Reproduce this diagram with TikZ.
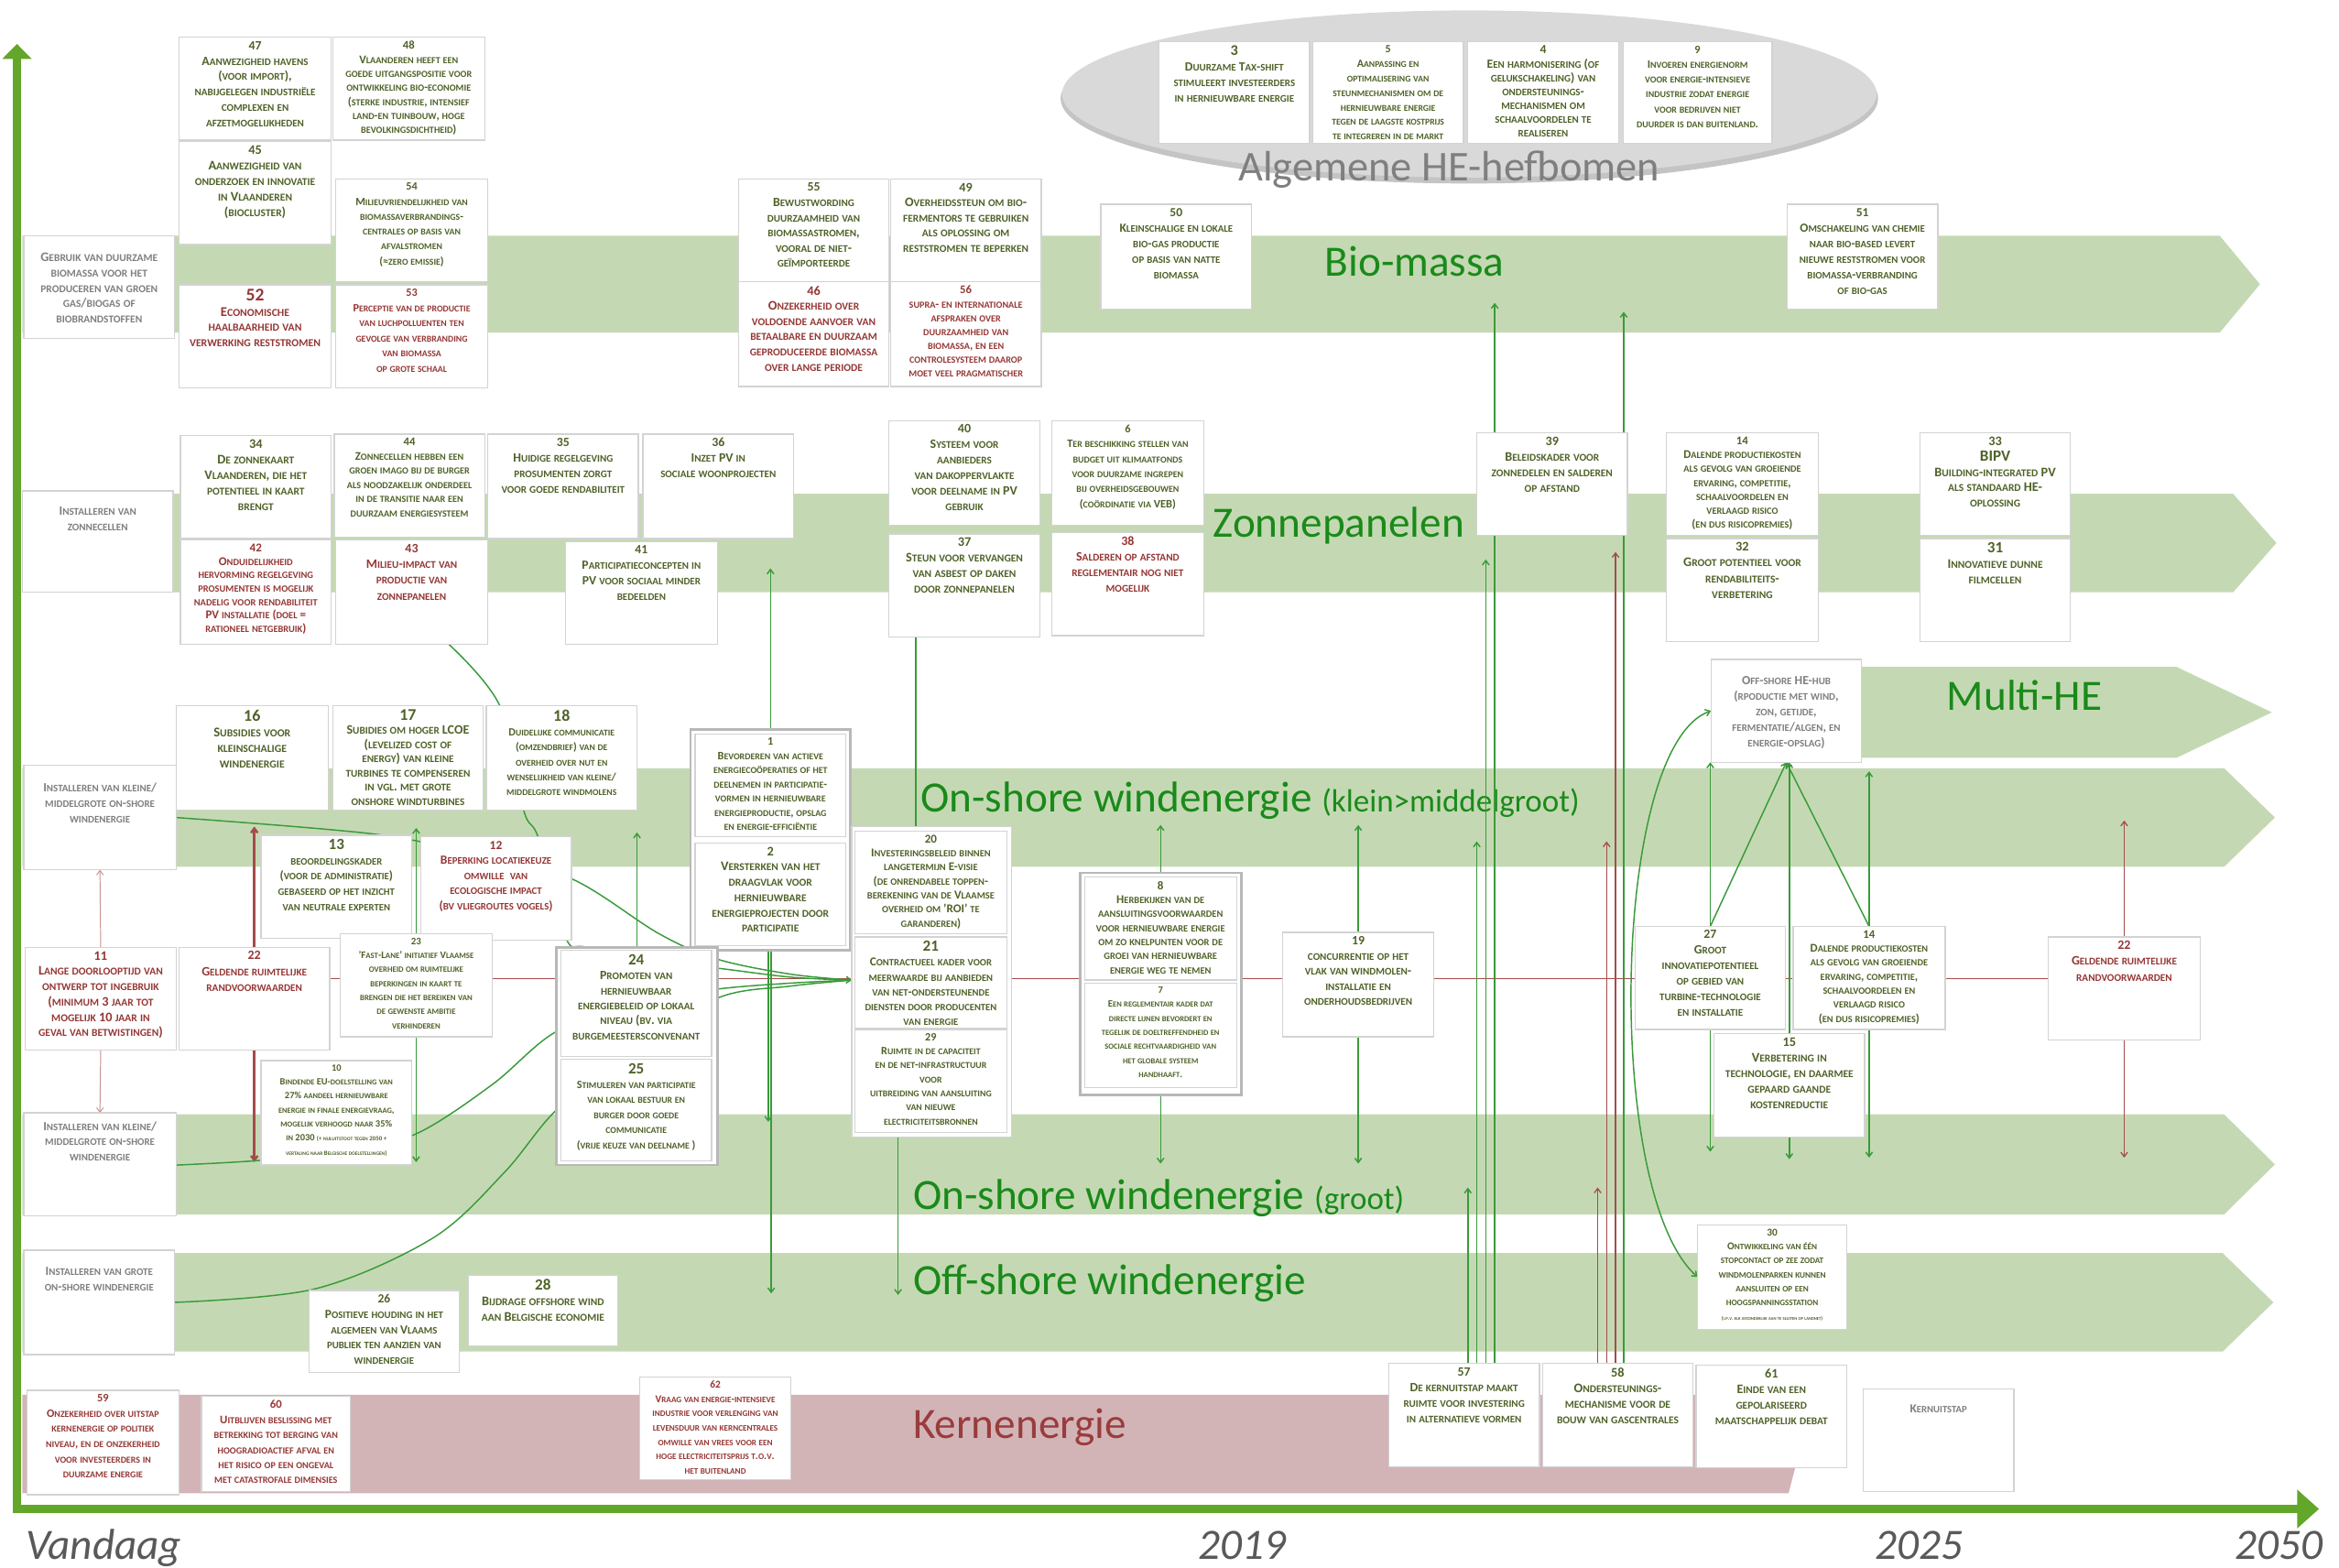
\documentclass[tikz,border=0pt]{standalone}
\usepackage{fontspec}
\setmainfont{Carlito}
\usetikzlibrary{arrows.meta}
\definecolor{gtx}{HTML}{4F6228}
\definecolor{rtx}{HTML}{953735}
\definecolor{gry}{HTML}{7F7F7F}
\definecolor{bordc}{HTML}{D3D3D3}
\definecolor{ofr}{HTML}{B8B8B8}
\definecolor{bandc}{HTML}{C4D9B3}
\definecolor{kernc}{HTML}{D2B4B7}
\definecolor{axc}{HTML}{62A62A}
\definecolor{lblc}{HTML}{1A8A1A}
\definecolor{kernlbl}{HTML}{9A3C3C}
\definecolor{lng}{HTML}{3A9A3A}
\definecolor{lnr}{HTML}{A54B4B}
\definecolor{ellc}{HTML}{D9D9D9}
\definecolor{ellsh}{HTML}{C4C4C4}
\definecolor{axl}{HTML}{595959}
\pgfdeclarelayer{bg}\pgfdeclarelayer{ln}\pgfsetlayers{bg,ln,main}
\makeatletter
\newcommand\fscsz{\fontsize{\fpeval{0.8*\f@size}}{\f@baselineskip}\selectfont}
\makeatother
\ExplSyntaxOn
\tl_new:N \l__fsc_out_tl
\seq_new:N \l__fsc_words_seq
\bool_new:N \l__fsc_first_bool
\cs_new_protected:Npn \fsc_process:n #1
 {
  \tl_clear:N \l__fsc_out_tl
  \seq_set_split:Nnn \l__fsc_words_seq { ~ } {#1}
  \bool_set_true:N \l__fsc_first_bool
  \seq_map_inline:Nn \l__fsc_words_seq
   {
    \bool_if:NF \l__fsc_first_bool { \tl_put_right:Nn \l__fsc_out_tl { ~ } }
    \bool_set_false:N \l__fsc_first_bool
    \tl_map_inline:nn {##1}
     {
      \tl_if_single_token:nTF {####1}
       {
        \tl_if_in:nnTF { abcdefghijklmnopqrstuvwxyzëïöéèüá } {####1}
         { \tl_put_right:Nn \l__fsc_out_tl { { \fscsz \MakeUppercase {####1} } } }
         { \tl_put_right:Nn \l__fsc_out_tl {####1} }
       }
       { \tl_put_right:Nn \l__fsc_out_tl { {####1} } }
     }
   }
 }
\NewDocumentCommand \fsc { m } { \fsc_process:n {#1} \tl_use:N \l__fsc_out_tl }
\ExplSyntaxOff
\newcommand\tinytxt[2]{{\fontsize{#1}{#1}\selectfont\fsc{#2}}}
\newcommand\bxf[2]{\fontsize{#1}{#2}\selectfont\bfseries}
\newcommand\bignum[2]{{\fontsize{#1}{#1}\selectfont #2}}
\tikzset{
  frm/.style={draw=bordc,fill=white,line width=0.8pt,inner sep=0pt,outer sep=0pt},
  ofrm/.style={draw=ofr,fill=white,line width=1.6pt,inner sep=0pt,outer sep=0pt},
  tg/.style 2 args={text=gtx,font=\bxf{#1}{#2}},
  tr/.style 2 args={text=rtx,font=\bxf{#1}{#2}},
  ty/.style 2 args={text=gry,font=\bxf{#1}{#2}},
  blbl/.style={text=lblc,font=\fontsize{29}{30}\selectfont,anchor=base west,inner sep=0pt},
  axlbl/.style={text=axl,font=\fontsize{29}{30}\selectfont\itshape,anchor=base west,inner sep=0pt},
  gl/.style={draw=lng,line width=0.9pt},
  rl/.style={draw=lnr,line width=0.8pt},
  tip/.style={-{Straight Barb[length=3pt,width=4.5pt]}},
}
\newcommand\bx[7]{%
  \pgfmathsetmacro\bw{#4-#2}\pgfmathsetmacro\bh{#5-#3}%
  \node[frm,anchor=north west,minimum width=\bw pt,minimum height=\bh pt] (#1) at (#2,#3) {};%
  \node[anchor=north,align=center,inner sep=0pt,#6] at ([yshift=-2.5pt]#1.north) {\fsc{#7}};}
\newcommand\ob[6]{%
  \pgfmathsetmacro\bw{#4-#2}\pgfmathsetmacro\bh{#5-#3}%
  \node[#6,anchor=north west,minimum width=\bw pt,minimum height=\bh pt] (#1) at (#2,#3) {};}
\begin{document}
\begin{tikzpicture}[x=1pt,y=-1pt]
\useasboundingbox (0,0) rectangle (1568,1051);
\begin{pgfonlayer}{bg}
\fill[white] (0,0) rectangle (1568,1051);
\fill[ellsh] (985,66) ellipse [x radius=274, y radius=57];
\fill[ellc] (985,63) ellipse [x radius=273, y radius=56];
\fill[bandc] (15,158) -- (1488,158) -- (1515,190.5) -- (1488,223) -- (15,223) -- cycle;
\fill[bandc] (15,331) -- (1497,331) -- (1526,364) -- (1497,397) -- (15,397) -- cycle;
\fill[bandc] (1200,447) -- (1459,447) -- (1523,477.5) -- (1459,508) -- (1200,508) -- cycle;
\fill[bandc] (15,515) -- (1491,515) -- (1525,548) -- (1491,581) -- (15,581) -- cycle;
\fill[bandc] (15,747) -- (1491,747) -- (1525,780.5) -- (1491,814) -- (15,814) -- cycle;
\fill[bandc] (15,840) -- (1490,840) -- (1524,873) -- (1490,906) -- (15,906) -- cycle;
\fill[kernc] (15,935) -- (1216,935) -- (1199,1001) -- (15,1001) -- cycle;
\node[text=gry,font=\fontsize{28.5}{30}\selectfont,anchor=base west,inner sep=0pt] (lalg) at (830,121) {Algemene HE-hefbomen};
\node[blbl] (lbio) at (888,185) {Bio-massa};
\node[blbl] (lzon) at (813,360) {Zonnepanelen};
\node[blbl] (lmulti) at (1305,476) {Multi-HE};
\node[blbl] (lonk) at (617,544) {On-shore windenergie {\fontsize{21.5}{22}\selectfont (klein>middelgroot)}};
\node[blbl] (long) at (612,811) {On-shore windenergie {\fontsize{21.5}{22}\selectfont (groot)}};
\node[blbl] (loff) at (612,868) {Off-shore windenergie};
\node[blbl,text=kernlbl] (lkern) at (612,964) {Kernenergie};
\fill[axc] (8.8,1014.5) rectangle (14,39);
\fill[axc] (1.5,39.5) -- (21.3,39.5) -- (11.4,29.5) -- cycle;
\fill[axc] (8.8,1008.5) rectangle (1541,1014.5);
\fill[axc] (1540,998.5) -- (1554.5,1011.5) -- (1540,1024.5) -- cycle;
\node[axlbl] (tv) at (17,1045) {Vandaag};
\node[axlbl] (t19) at (803,1045) {2019};
\node[axlbl] (t25) at (1257,1045) {2025};
\node[axlbl] (t50) at (1498,1045) {2050};
\end{pgfonlayer}

\bx{gb}{16}{158}{117}{227}{ty={8.8}{10.2},yshift=-9pt}{Gebruik van duurzame\\biomassa voor het\\produceren van groen\\gas/biogas of\\biobrandstoffen}
\bx{n47}{120}{25}{222}{94}{tg={8.5}{10.4}}{47\\Aanwezigheid havens\\(voor import),\\nabijgelegen industriële\\complexen en\\afzetmogelijkheden}
\bx{n48}{223}{25}{325}{94}{tg={7.8}{9.4}}{48\\Vlaanderen heeft een\\goede uitgangspositie voor\\ontwikkeling bio-economie\\(sterke industrie, intensief\\land-en tuinbouw, hoge\\bevolkingsdichtheid)}
\bx{n45}{120}{95}{222}{164}{tg={8.8}{10.4}}{45\\Aanwezigheid van\\onderzoek en innovatie\\in Vlaanderen\\(biocluster)}
\bx{n54}{225}{120}{327}{189}{tg={7.5}{10}}{54\\Milieuvriendelijkheid van\\biomassaverbrandings-\\centrales op basis van\\afvalstromen\\(≈zero emissie)}
\bx{n52}{120}{191}{222}{260}{tr={9.0}{10.3}}{\bignum{12}{52}\\Economische\\haalbaarheid van\\verwerking reststromen}
\bx{n53}{225}{191}{327}{260}{tr={7.5}{10.2}}{53\\Perceptie van de productie\\van luchpolluenten ten\\gevolge van verbranding\\van biomassa\\op grote schaal}
\bx{n55}{495}{120}{596}{189}{tg={8.5}{10.2}}{55\\Bewustwording\\duurzaamheid van\\biomassastromen,\\vooral de niet-\\geïmporteerde}
\bx{n49}{597}{120}{698}{189}{tg={8.7}{10.2}}{49\\Overheidssteun om bio-\\fermentors te gebruiken\\als oplossing om\\reststromen te beperken}
\bx{n46}{495}{189}{596}{259}{tr={8.8}{10.2}}{46\\Onzekerheid over\\voldoende aanvoer van\\betaalbare en duurzaam\\geproduceerde biomassa\\over lange periode}
\bx{n56}{597}{189}{698}{259}{tr={7.8}{9.3}}{56\\supra- en internationale\\afspraken over\\duurzaamheid van\\biomassa, en een\\controlesysteem daarop\\moet veel pragmatischer}
\bx{n50}{738}{137}{839}{207}{tg={8.3}{10.4}}{50\\Kleinschalige en lokale\\bio-gas productie\\op basis van natte\\biomassa}
\bx{n51}{1198}{137}{1299}{207}{tg={8.3}{10.4}}{51\\Omschakeling van chemie\\naar bio-based levert\\nieuwe reststromen voor\\biomassa-verbranding\\of bio-gas}
\bx{n3}{777}{28}{878}{96}{tg={8.4}{10.4}}{\bignum{10}{3}\\Duurzame Tax-shift\\stimuleert investeerders\\in hernieuwbare energie}
\bx{n5}{880}{28}{981}{96}{tg={7.4}{9.7}}{5\\Aanpassing en\\optimalisering van\\steunmechanismen om de\\hernieuwbare energie\\tegen de laagste kostprijs\\te integreren in de markt}
\bx{n4}{984}{28}{1085}{96}{tg={8.4}{9.3}}{4\\Een harmonisering (of\\gelukschakeling) van\\ondersteunings-\\mechanismen om\\schaalvoordelen te\\realiseren}
\bx{n9}{1088}{28}{1188}{96}{tg={7.6}{10}}{9\\Invoeren energienorm\\voor energie-intensieve\\industrie zodat energie\\voor bedrijven niet\\duurder is dan buitenland.}
\bx{iz}{15}{329}{116}{397}{ty={8.5}{10.3},yshift=-8pt}{Installeren van\\zonnecellen}
\bx{n34}{121}{292}{222}{361}{tg={8.8}{10.4}}{34\\De zonnekaart\\Vlaanderen, die het\\potentieel in kaart\\brengt}
\bx{n44}{224}{291}{325}{360}{tg={7.8}{9.5}}{44\\Zonnecellen hebben een\\groen imago bij de burger\\als noodzakelijk onderdeel\\in de transitie naar een\\duurzaam energiesysteem}
\bx{n35}{327}{291}{428}{361}{tg={8.5}{10.4}}{35\\Huidige regelgeving\\prosumenten zorgt\\voor goede rendabiliteit}
\bx{n36}{431}{291}{532}{361}{tg={8.5}{10.4}}{36\\Inzet PV in\\sociale woonprojecten}
\bx{n42}{121}{362}{222}{432}{tr={8.0}{9.0}}{42\\Onduidelijkheid\\hervorming regelgeving\\prosumenten is mogelijk\\nadelig voor rendabiliteit\\PV installatie (doel =\\rationeel netgebruik)}
\bx{n43}{225}{362}{327}{432}{tr={8.6}{10.6}}{43\\Milieu-impact van\\productie van\\zonnepanelen}
\bx{n41}{379}{363}{481}{432}{tg={8.4}{10.4}}{41\\Participatieconcepten in\\PV voor sociaal minder\\bedeelden}
\bx{n40}{596}{282}{697}{352}{tg={8.6}{10.4}}{40\\Systeem voor\\aanbieders\\van dakoppervlakte\\voor deelname in PV\\gebruik}
\bx{n6}{705}{282}{807}{352}{tg={7.6}{10.1}}{6\\Ter beschikking stellen van\\budget uit klimaatfonds\\voor duurzame ingrepen\\bij overheidsgebouwen\\(coördinatie via VEB)}
\bx{n37}{596}{358}{697}{427}{tg={8.8}{10.4}}{37\\Steun voor vervangen\\van asbest op daken\\door zonnepanelen}
\bx{n38}{705}{357}{807}{426}{tr={8.6}{10.4}}{38\\Salderen op afstand\\reglementair nog niet\\mogelijk}
\bx{n39}{990}{290}{1091}{359}{tg={8.7}{10.5}}{39\\Beleidskader voor\\zonnedelen en salderen\\op afstand}
\bx{n14a}{1117}{290}{1219}{359}{tg={7.9}{9.4}}{14\\Dalende productiekosten\\als gevolg van groeiende\\ervaring, competitie,\\schaalvoordelen en\\verlaagd risico\\(en dus risicopremies)}
\bx{n32}{1117}{361}{1219}{430}{tg={8.8}{10.5}}{32\\Groot potentieel voor\\rendabiliteits-\\verbetering}
\bx{n33}{1287}{290}{1388}{359}{tg={8.8}{10.4}}{33\\\bignum{10.5}{BIPV}\\Building-integrated PV\\als standaard HE-\\oplossing}
\bx{n31}{1287}{361}{1388}{430}{tg={8.8}{10.4}}{\bignum{10.5}{31}\\Innovatieve dunne\\filmcellen}
\bx{hub}{1147}{442}{1248}{511}{ty={8.4}{10.4},yshift=-9pt}{Off-shore HE-hub\\(rpoductie met wind,\\zon, getijde,\\fermentatie/algen, en\\energie-opslag)}
\bx{iw1}{16}{513}{118}{583}{ty={8.4}{10.4},yshift=-9pt}{Installeren van kleine/\\middelgrote on-shore\\windenergie}
\bx{n16}{118}{473}{220}{543}{tg={9.0}{10.6}}{\bignum{11}{16}\\Subsidies voor\\kleinschalige\\windenergie}
\bx{n17}{223}{473}{324}{543}{tg={8.6}{9.5}}{\bignum{11}{17}\\Subidies om hoger LCOE\\(levelized cost of\\energy) van kleine\\turbines te compenseren\\in vgl. met grote\\onshore windturbines}
\bx{n18}{326}{473}{427}{543}{tg={7.4}{10}}{\bignum{11}{18}\\Duidelijke communicatie\\(omzendbrief) van de\\overheid over nut en\\wenselijkheid van kleine/\\middelgrote windmolens}
\bx{n13}{175}{560}{276}{629}{tg={8.2}{10.2}}{\bignum{10.5}{13}\\beoordelingskader\\(voor de administratie)\\gebaseerd op het inzicht\\van neutrale experten}
\bx{n12}{282}{561}{383}{630}{tr={8.3}{10.2}}{12\\Beperking locatiekeuze\\omwille~~van\\ecologische impact\\(bv vliegroutes vogels)}
\bx{n11}{17}{635}{118}{704}{tr={8.8}{10.3}}{11\\Lange doorlooptijd van\\ontwerp tot ingebruik\\(minimum 3 jaar tot\\mogelijk 10 jaar in\\geval van betwistingen)}
\bx{n22a}{120}{635}{221}{704}{tr={8.6}{10.6}}{22\\Geldende ruimtelijke\\randvoorwaarden}
\bx{n23}{228}{626}{330}{695}{tg={6.7}{9.4}}{23\\'Fast-Lane' initiatief Vlaamse\\overheid om ruimtelijke\\beperkingen in kaart te\\brengen die het bereiken van\\de gewenste ambitie\\verhinderen}
\bx{n10}{175}{711}{276}{781}{tg={6.4}{9.4}}{10\\Bindende EU-doelstelling van\\27\% aandeel hernieuwbare\\energie in finale energievraag,\\mogelijk verhoogd naar 35\%\\in 2030 \tinytxt{4.2}{(+ nuluitstoot tegen 2050 +}\\\tinytxt{4.2}{vertaling naar Belgische doelstellingen)}}
\ob{o12}{463}{489}{570}{637}{ofrm}
\bx{n1}{466}{492}{567}{561}{tg={7.6}{9.5}}{1\\Bevorderen van actieve\\energiecoöperaties of het\\deelnemen in participatie-\\vormen in hernieuwbare\\energieproductie, opslag\\en energie-efficiëntie}
\bx{n2}{466}{565}{567}{634}{tg={8.8}{10.3}}{2\\Versterken van het\\draagvlak voor\\hernieuwbare\\energieprojecten door\\participatie}
\ob{o2425}{373}{635}{481}{781}{ofrm}
\bx{n24}{376}{637}{477}{708}{tg={8.5}{10.1}}{\bignum{10.5}{24}\\Promoten van\\hernieuwbaar\\energiebeleid op lokaal\\niveau (bv. via\\burgemeestersconvenant}
\bx{n25}{376}{710}{477}{778}{tg={7.5}{10.1}}{\bignum{10.5}{25}\\Stimuleren van participatie\\van lokaal bestuur en\\burger door goede\\communicatie\\(vrije keuze van deelname )}
\ob{o2029}{571}{554}{678}{762}{frm}
\bx{n20}{573}{557}{675}{626}{tg={8.0}{9.4}}{20\\Investeringsbeleid binnen\\langetermijn E-visie\\(de onrendabele toppen-\\berekening van de Vlaamse\\overheid om ’ROI’ te\\garanderen)}
\bx{n21}{573}{628}{675}{689}{tg={8.1}{10}}{\bignum{10.5}{21}\\Contractueel kader voor\\meerwaarde bij aanbieden\\van net-ondersteunende\\diensten door producenten\\van energie}
\bx{n29}{573}{690}{675}{759}{tg={7.5}{9.4}}{29\\Ruimte in de capaciteit\\en de net-infrastructuur\\voor\\uitbreiding van aansluiting\\van nieuwe\\electriciteitsbronnen}
\ob{o87}{724}{585}{832}{734}{ofrm}
\bx{n8}{727}{588}{829}{657}{tg={8.0}{9.4}}{8\\Herbekijken van de\\aansluitingsvoorwaarden\\voor hernieuwbare energie\\om zo knelpunten voor de\\groei van hernieuwbare\\energie weg te nemen}
\bx{n7}{727}{659}{829}{729}{tg={6.5}{9.4}}{7\\Een reglementair kader dat\\directe lijnen bevordert en\\tegelijk de doeltreffendheid en\\sociale rechtvaardigheid van\\het globale systeem\\handhaaft.}
\bx{n19}{860}{625}{961}{695}{tg={8.5}{10.2}}{19\\concurrentie op het\\vlak van windmolen-\\installatie en\\onderhoudsbedrijven}
\bx{n27}{1096}{621}{1197}{690}{tg={8.5}{10.4}}{27\\Groot\\innovatiepotentieel\\op gebied van\\turbine-technologie\\en installatie}
\bx{n14b}{1202}{621}{1304}{690}{tg={7.9}{9.4}}{14\\Dalende productiekosten\\als gevolg van groeiende\\ervaring, competitie,\\schaalvoordelen en\\verlaagd risico\\(en dus risicopremies)}
\bx{n15}{1149}{693}{1250}{762}{tg={8.8}{10.4}}{15\\Verbetering in\\technologie, en daarmee\\gepaard gaande\\kostenreductie}
\bx{n22b}{1373}{628}{1475}{697}{tr={8.6}{10.6}}{22\\Geldende ruimtelijke\\randvoorwaarden}
\bx{iw2}{16}{746}{118}{815}{ty={8.4}{10.4},yshift=-3pt}{Installeren van kleine/\\middelgrote on-shore\\windenergie}
\bx{iw3}{16}{838}{117}{908}{ty={8.4}{10.4},yshift=-9pt}{Installeren van grote\\on-shore windenergie}
\bx{n26}{207}{865}{308}{920}{tg={8.3}{10.3}}{26\\Positieve houding in het\\algemeen van Vlaams\\publiek ten aanzien van\\windenergie}
\bx{n28}{314}{855}{414}{902}{tg={8.8}{10.4}}{\bignum{10.5}{28}\\Bijdrage offshore wind\\aan Belgische economie}
\bx{n30}{1138}{821}{1238}{891}{tg={7.0}{9.4}}{30\\Ontwikkeling van één\\stopcontact op zee zodat\\windmolenparken kunnen\\aansluiten op een\\hoogspanningsstation\\\tinytxt{3.5}{(i.p.v. elk afzonderlijk aan te sluiten op landnet)}}
\bx{n59}{18}{932}{120}{1002}{tr={7.6}{10.2}}{59\\Onzekerheid over uitstap\\kernenergie op politiek\\niveau, en de onzekerheid\\voor investeerders in\\duurzame energie}
\bx{n60}{135}{936}{235}{1000}{tr={7.8}{10.1}}{60\\Uitblijven beslissing met\\betrekking tot berging van\\hoogradioactief afval en\\het risico op een ongeval\\met catastrofale dimensies}
\bx{n62}{429}{923}{530}{992}{tr={7.0}{9.6}}{62\\Vraag van energie-intensieve\\industrie voor verlenging van\\levensduur van kerncentrales\\omwille van vrees voor een\\hoge electriciteitsprijs t.o.v.\\het buitenland}
\bx{n57}{931}{914}{1032}{983}{tg={8.5}{10.5}}{57\\De kernuitstap maakt\\ruimte voor investering\\in alternatieve vormen}
\bx{n58}{1034}{914}{1135}{983}{tg={8.8}{10.5}}{58\\Ondersteunings-\\mechanisme voor de\\bouw van gascentrales}
\bx{n61}{1137}{915}{1238}{984}{tg={8.7}{10.5}}{61\\Einde van een\\gepolariseerd\\maatschappelijk debat}
\bx{ku}{1249}{931}{1350}{1000}{ty={8.2}{10.4},yshift=-8pt}{Kernuitstap}

\begin{pgfonlayer}{ln}
\coordinate (tgt) at (o2029.west |- 0,657);
\draw[rl] (n22a.east |- 0,656) -- (n22b.west |- 0,656);
\draw[tip,draw=lnr!60,line width=0.6pt] (n11.north) -- (iw1.south);
\draw[tip,draw=lnr!60,line width=0.6pt] (n11.south) -- (iw2.north);
\draw[rl,tip,line width=1.5pt] (n22a.north) -- (n22a.north |- 0,554);
\draw[rl,tip,line width=1.5pt] (n22a.south) -- (n22a.south |- 0,779);
\draw[rl,tip] (n22b.north) -- (n22b.north |- 0,550);
\draw[rl,tip] (n22b.south) -- (n22b.south |- 0,776);
\draw[gl,tip] plot[smooth,tension=0.55] coordinates {(iw1.east) (250,559) (320,573) (383,589) (442,626) (481,643) (530,653) (tgt)};
\draw[gl] plot[smooth,tension=0.55] coordinates {(n43.south -| 301,0) (335,473) (351,543) (361,562) (379,628) (393,635) (440,645) (481,649) (530,655) (tgt)};
\draw[gl] plot[smooth,tension=0.55] coordinates {(iw2.east |- 0,781) (172,778) (230,772) (279,760) (330,727) (372,692) (425,672) (481,663) (530,659) (tgt)};
\draw[gl] plot[smooth,tension=0.55] coordinates {(iw3.east |- 0,873) (211,864) (290,830) (338,786) (372,745) (420,705) (481,669) (530,661) (tgt)};
\draw[gl,tip] (n23.north) -- (n23.north |- 0,555);
\draw[gl,tip] (n23.south) -- (n23.south |- 0,779);
\draw[gl,tip] (o2425.north) -- (o2425.north |- 0,558);
\draw[gl,tip] (o12.north) -- (o12.north |- 0,381);
\draw[gl,tip] ([xshift=-1.5pt]o12.south) -- ([xshift=-1.5pt]o12.south |- 0,752);
\draw[gl,tip] ([xshift=0.5pt]o12.south) -- ([xshift=0.5pt]o12.south |- 0,867);
\draw[gl] (n37.south -| 614,0) -- (o2029.north -| 614,0);
\draw[gl,tip] (o2029.south -| 602,0) -- (602,868);
\draw[gl,tip] (o87.north) -- (o87.north |- 0,553);
\draw[gl,tip] (o87.south) -- (o87.south |- 0,780);
\draw[gl,tip] (n19.north) -- (n19.north |- 0,553);
\draw[gl,tip] (n19.south) -- (n19.south |- 0,780);
\draw[gl,tip] (n27.north) -- (n27.north |- hub.south);
\draw[gl,tip] (n27.north) -- (hub.south);
\draw[gl,tip] (n14b.north) -- (hub.south);
\draw[gl,tip] (n14b.north) -- (n14b.north |- 0,517);
\draw[gl,tip] (n15.north) -- (n15.north |- hub.south);
\draw[gl,tip] (n15.south) -- (n15.south |- 0,777);
\draw[gl,tip] (n14b.south) -- (n14b.south |- 0,776);
\draw[gl,tip] (n27.south) -- (n27.south |- 0,772);
\foreach \xx/\yy in {984/796,990/564,996/375,1002/203} \draw[gl,tip] (n57.north -| \xx,0) -- (\xx,\yy);
\foreach \xx/\yy in {1071/796,1077/564,1083/370} \draw[rl,tip] (n58.north -| \xx,0) -- (\xx,\yy);
\draw[gl,tip] (n58.north -| 1088.5,0) -- (1088.5,209);
\draw[gl,{Straight Barb[length=3pt,width=4.5pt]}-{Straight Barb[length=3pt,width=4.5pt]}] (n30.west) .. controls (1075,800) and (1080,500) .. (hub.west);
\end{pgfonlayer}
\end{tikzpicture}
\end{document}
